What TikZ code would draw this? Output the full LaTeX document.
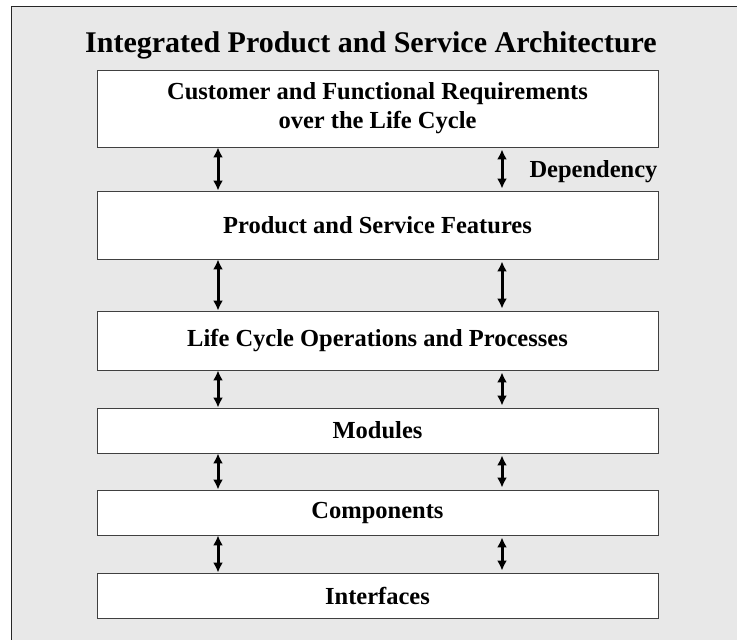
\documentclass[tikz,border=0pt]{standalone}
\usepackage{fontspec}
\setmainfont{Liberation Serif}
\usepackage{xcolor}
\usetikzlibrary{arrows.meta}
\definecolor{panelgray}{HTML}{E8E8E8}
\tikzset{
	layer/.style={draw=black!75, fill=white, line width=0.9pt, minimum width=561pt, inner sep=0pt,
		align=center, font=\fontsize{24.5}{29}\selectfont\bfseries},
	dep/.style={{Latex[length=10pt,width=10pt]}-{Latex[length=10pt,width=10pt]}, line width=3pt},
}

\begin{document}
\begin{tikzpicture}[x=1pt, y=-1pt]
		\useasboundingbox (0,0) rectangle (737,640);
		\clip (0,0) rectangle (737,640);
		\draw[fill=panelgray, draw=black!85, line width=1pt] (11,6) rectangle (770,680);

		\node[anchor=base, font=\fontsize{30}{36}\selectfont\bfseries] (title) at (371,52) {Integrated Product and Service Architecture};

		% the layers, top to bottom
		\node[layer, minimum height=77pt] (req) at (377.5,108.5) {Customer and Functional Requirements\\over the Life Cycle};
		\node[layer, minimum height=68pt] (feat) at (377.5,225) {Product and Service Features};
		\node[layer, minimum height=59pt] (ops) at (377.5,340.5) {Life Cycle Operations and Processes};
		\node[layer, minimum height=45pt] (mod) at (377.5,430.5) {Modules};
		\node[layer, minimum height=45pt] (comp) at (377.5,512.5) {Components};
		\node[layer, minimum height=45pt] (intf) at (377.5,595.5) {Interfaces};

		\coordinate (lcol) at (218,0);
		\coordinate (rcol) at (502,0);
		\foreach \a/\b in {req/feat, feat/ops, ops/mod, mod/comp, comp/intf} {
			\draw[dep] (\a.south -| lcol) -- (\b.north -| lcol);
			\draw[dep, shorten <=2pt, shorten >=2pt] (\a.south -| rcol) -- (\b.north -| rcol);
		}

		\node[anchor=base west, font=\fontsize{24.5}{29}\selectfont\bfseries] (deplabel) at (526,177) {Dependency};
	\end{tikzpicture}
\end{document}
